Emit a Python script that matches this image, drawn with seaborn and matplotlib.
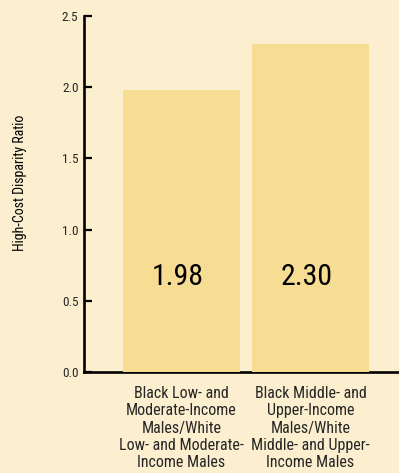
import matplotlib
matplotlib.use("Agg")
import matplotlib.pyplot as plt
from matplotlib import font_manager
import seaborn as sns
import pandas as pd

# Data
categories = [
    "Black Low- and\nModerate-Income\nMales/White\nLow- and Moderate-\nIncome Males",
    "Black Middle- and\nUpper-Income\nMales/White\nMiddle- and Upper-\nIncome Males",
]
ratios = [1.98, 2.30]
value_labels = ["1.98", "2.30"]
y_ticks = [0.0, 0.5, 1.0, 1.5, 2.0, 2.5]

BG = "#FCEFCF"
BAR = "#F7DC94"

sns.set_theme(style="white")

# Prefer a narrow sans face when one is installed
available = {f.name for f in font_manager.fontManager.ttflist}
family = ["DejaVu Sans"]
for cand in ["Liberation Sans Narrow", "DejaVu Sans Condensed", "Roboto Condensed",
             "Open Sans Condensed", "Noto Sans Condensed"]:
    if cand in available:
        family = [cand, "DejaVu Sans"]
        break
plt.rcParams["font.family"] = family
if family[0] == "DejaVu Sans":
    plt.rcParams["font.stretch"] = "condensed"

W, H = 399, 473
fig = plt.figure(figsize=(W / 100, H / 100), dpi=100, facecolor=BG)
ax = fig.add_axes([84 / W, 101 / H, 1 - 84 / W, (372 - 16) / H])
ax.set_facecolor(BG)

df = pd.DataFrame({"group": categories, "ratio": ratios})
sns.barplot(data=df, x="group", y="ratio", color=BAR, saturation=1,
            width=0.907, ax=ax, zorder=3)
for p in ax.patches:
    p.set_edgecolor("none")

for i, (v, lab) in enumerate(zip(ratios, value_labels)):
    ax.text(i - 0.03, 0.667, lab, ha="center", va="center", fontsize=21.5,
            color="black", zorder=4)

ax.set_xlim(-0.756, 1.686)
ax.set_ylim(0, 2.5)
ax.set_yticks(y_ticks)
ax.set_yticklabels([f"{t:.1f}" for t in y_ticks], fontsize=9.5)
ax.tick_params(axis="y", direction="in", length=6, width=1.6, color="black",
               pad=4, left=True)
ax.tick_params(axis="x", length=0, pad=10, labelsize=11.5)
for t in ax.get_xticklabels():
    t.set_ha("center")
    t.set_multialignment("center")

for side in ["top", "right"]:
    ax.spines[side].set_visible(False)
for side in ["left", "bottom"]:
    ax.spines[side].set_color("black")
    ax.spines[side].set_linewidth(1.9)
    ax.spines[side].set_zorder(2)

ax.set_xlabel("")
ax.set_ylabel("High-Cost Disparity Ratio", fontsize=10, color="black")
ax.yaxis.set_label_coords(-(84 - 27) / (W - 84), (372 - 183) / (372 - 16))

fig.savefig("out.png", dpi=100, facecolor=BG)
